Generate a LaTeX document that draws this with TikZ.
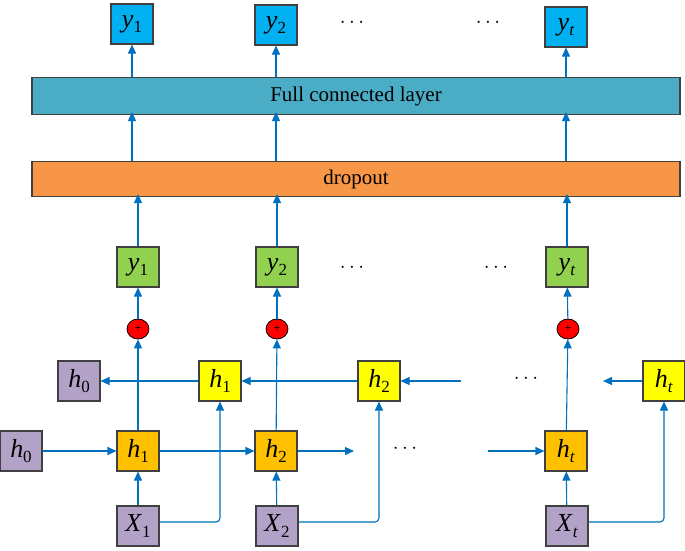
\documentclass[tikz,border=0pt]{standalone}
\usepackage{fontspec}
\setmainfont{Liberation Serif}
\usetikzlibrary{arrows.meta,shapes.geometric}
\definecolor{arrblue}{HTML}{0070C0}
\definecolor{cyanbox}{HTML}{00B0F0}
\definecolor{fcblue}{HTML}{4BACC6}
\definecolor{droporange}{HTML}{F79646}
\definecolor{greenbox}{HTML}{92D050}
\definecolor{yellowbox}{HTML}{FFFF00}
\definecolor{orangebox}{HTML}{FFC000}
\definecolor{purplebox}{HTML}{B3A2C7}
\definecolor{boxborder}{HTML}{404040}
\newcommand{\vsym}[2]{\textit{#1}\raisebox{-0.45ex}{\fontsize{17}{17}\selectfont #2}}
\begin{document}
\begin{tikzpicture}[x=1pt,y=-1pt,
  box/.style={draw=boxborder,line width=1.1pt,minimum width=42pt,minimum height=40pt,inner sep=0pt,font=\fontsize{26}{26}\selectfont},
  layer/.style={draw=boxborder,line width=1.1pt,minimum width=648pt,inner sep=0pt,font=\fontsize{21}{21}\selectfont},
  arr/.style={draw=arrblue,line width=1.1pt,-{Triangle[length=9pt,width=8pt]}},
  plus/.style={ellipse,draw=black,line width=0.8pt,fill=red,minimum width=22pt,minimum height=20pt,inner sep=0pt,font=\fontsize{13}{13}\selectfont},
  dots/.style={font=\fontsize{22}{22}\selectfont}]
\useasboundingbox (0,0) rectangle (685,550);
% top outputs
\node[box,fill=cyanbox] (ty1) at (132,24) {\vsym{y}{1}};
\node[box,fill=cyanbox] (ty2) at (276,25) {\vsym{y}{2}};
\node[box,fill=cyanbox] (tyt) at (566,27) {\vsym{y}{\textit{t}}};
\node[dots] (td1) at (352,23) {$\cdots$};
\node[dots] (td2) at (488,23) {$\cdots$};
% layers
\node[layer,fill=fcblue,minimum height=37pt] (fc) at (356,96) {Full connected layer};
\node[layer,fill=droporange,minimum height=35pt] (drop) at (356,179) {dropout};
% green outputs
\node[box,fill=greenbox] (gy1) at (138,267) {\vsym{y}{1}};
\node[box,fill=greenbox] (gy2) at (277,267) {\vsym{y}{2}};
\node[box,fill=greenbox] (gyt) at (567,267) {\vsym{y}{\textit{t}}};
\node[dots] (gd1) at (352,268) {$\cdots$};
\node[dots] (gd2) at (496,268) {$\cdots$};
% plus circles
\node[plus] (p1) at (138,329) {+};
\node[plus] (p2) at (277,329) {+};
\node[plus] (pt) at (568,329) {+};
% backward row
\node[box,fill=purplebox] (bh0) at (79,381) {\vsym{h}{0}};
\node[box,fill=yellowbox] (bh1) at (220,381) {\vsym{h}{1}};
\node[box,fill=yellowbox] (bh2) at (379,381) {\vsym{h}{2}};
\node[box,fill=yellowbox] (bht) at (664,381) {\vsym{h}{\textit{t}}};
\node[dots] (bd) at (526,379) {$\cdots$};
\coordinate (bin) at (461,381);
\coordinate (bout) at (603,381);
% forward row
\node[box,fill=purplebox] (fh0) at (21,451) {\vsym{h}{0}};
\node[box,fill=orangebox] (fh1) at (138,451) {\vsym{h}{1}};
\node[box,fill=orangebox] (fh2) at (276,451) {\vsym{h}{2}};
\node[box,fill=orangebox] (fht) at (566,451) {\vsym{h}{\textit{t}}};
\node[dots] (fd) at (405,449) {$\cdots$};
\coordinate (fout) at (354,451);
\coordinate (fin) at (488,451);
% inputs
\node[box,fill=purplebox] (x1) at (138,526) {\vsym{X}{1}};
\node[box,fill=purplebox] (x2) at (277,526) {\vsym{X}{2}};
\node[box,fill=purplebox] (xt) at (567,526) {\vsym{X}{\textit{t}}};
% arrows FC -> top
\draw[arr] (fc.north -| ty1) -- (ty1.south);
\draw[arr] (fc.north -| ty2) -- (ty2.south);
\draw[arr] (fc.north -| tyt) -- (tyt.south);
% dropout -> FC
\draw[arr] (drop.north -| ty1) -- ([yshift=3pt]fc.south -| ty1);
\draw[arr] (drop.north -| ty2) -- ([yshift=3pt]fc.south -| ty2);
\draw[arr] (drop.north -| tyt) -- ([yshift=3pt]fc.south -| tyt);
% green -> dropout
\draw[arr] (gy1.north) -- ([yshift=3pt]drop.south -| gy1);
\draw[arr] (gy2.north) -- ([yshift=3pt]drop.south -| gy2);
\draw[arr] (gyt.north) -- ([yshift=3pt]drop.south -| gyt);
% plus -> green
\draw[arr] (p1) -- (gy1);
\draw[arr] (p2) -- (gy2);
\draw[arr] (pt) -- (gyt);
% backward chain
\draw[arr] (bh1) -- (bh0);
\draw[arr] (bh2) -- (bh1);
\draw[arr] (bin) -- (bh2);
\draw[arr] (bht) -- (bout);
% forward hidden -> plus
\draw[arr] (fh1) -- (p1);
\draw[arr] (fh2) -- (p2);
\draw[arr] (fht) -- (pt);
% forward chain
\draw[arr] (fh0) -- (fh1);
\draw[arr] (fh1) -- (fh2);
\draw[arr] (fh2) -- (fout);
\draw[arr] (fin) -- (fht);
% inputs
\draw[arr] (x1) -- (fh1);
\draw[arr] (x2) -- (fh2);
\draw[arr] (xt) -- (fht);
\draw[arr,rounded corners=4pt] ([yshift=4pt]x1.east) -| (bh1.south);
\draw[arr,rounded corners=4pt] ([yshift=4pt]x2.east) -| (bh2.south);
\draw[arr,rounded corners=4pt] ([yshift=4pt]xt.east) -| (bht.south);
\end{tikzpicture}
\end{document}
